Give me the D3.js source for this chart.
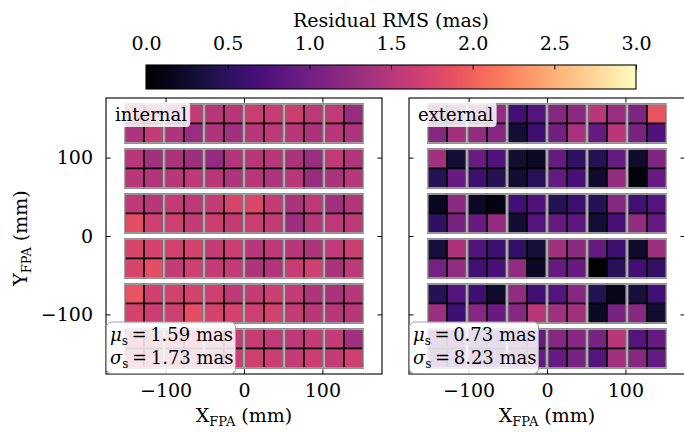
<!DOCTYPE html>
<html><head><meta charset="utf-8">
<script src="https://cdn.jsdelivr.net/npm/d3@7"></script>
<style>
body{margin:0;background:#fff;}
svg text{font-family:"DejaVu Serif",serif;fill:#000;}
</style></head>
<body><svg id="c" width="684" height="432"></svg>
<script>
// ---- data ----
const panelNames = ["internal", "external"];
const statMu = ["1.59", "0.73"];
const statSigma = ["1.73", "8.23"];
const axisTicks = [-100, 0, 100];
const cbarTicks = [0.0, 0.5, 1.0, 1.5, 2.0, 2.5, 3.0];
// focal plane layout (mm)
const chipX = [-127.5, -76.5, -25.5, 25.5, 76.5, 127.5];
const chipY = [143.5, 86.1, 28.7, -28.7, -86.1, -143.5];
// residual RMS per cell (mas), 12 cell rows (top->bottom) x 12 cell cols (left->right)
const internalRMS = [
 [1.60,1.60, 1.55,1.60, 1.50,1.50, 1.65,1.62, 1.65,1.55, 1.57,1.28],
 [1.45,1.60, 1.45,1.30, 1.45,1.35, 1.50,1.55, 1.50,1.42, 1.52,1.45],
 [1.52,1.35, 1.42,1.33, 1.25,1.48, 1.50,1.50, 1.42,1.30, 1.57,1.47],
 [1.50,1.47, 1.52,1.55, 1.50,1.45, 1.52,1.45, 1.50,1.28, 1.42,1.50],
 [1.55,1.50, 1.60,1.55, 1.60,1.75, 1.78,1.60, 1.42,1.55, 1.35,1.47],
 [1.85,1.67, 1.67,1.60, 1.65,1.60, 1.65,1.60, 1.33,1.50, 1.55,1.55],
 [1.75,1.72, 1.70,1.72, 1.60,1.65, 1.50,1.55, 1.50,1.45, 1.57,1.65],
 [1.75,1.85, 1.60,1.67, 1.60,1.60, 1.45,1.47, 1.62,1.67, 1.42,1.55],
 [1.90,1.67, 1.70,1.70, 1.67,1.55, 1.60,1.65, 1.60,1.45, 1.42,1.50],
 [1.72,1.65, 1.67,1.85, 1.72,1.72, 1.67,1.70, 1.60,1.50, 1.52,1.50],
 [1.70,1.70, 1.70,1.70, 1.70,1.60, 1.62,1.57, 1.55,1.60, 1.60,1.35],
 [1.70,1.70, 1.70,1.70, 1.70,1.67, 1.67,1.65, 1.60,1.65, 1.60,1.67]
];
const externalRMS = [
 [1.20,1.20, 1.20,1.25, 0.65,0.78, 1.15,1.20, 1.52,1.30, 1.10,1.90],
 [1.15,1.35, 1.25,1.15, 0.30,0.62, 1.00,1.40, 0.90,1.50, 1.05,0.75],
 [1.35,0.30, 0.93,0.75, 0.28,0.22, 0.90,0.52, 0.45,0.90, 0.25,1.10],
 [0.45,0.92, 0.62,0.45, 0.28,0.48, 0.90,0.70, 0.25,1.25, 0.08,0.92],
 [0.18,1.20, 0.22,0.10, 0.65,0.75, 0.45,0.62, 0.45,1.15, 0.65,0.78],
 [0.52,1.05, 0.92,1.25, 0.28,0.78, 0.90,0.85, 0.30,0.70, 1.25,0.90],
 [0.33,1.42, 0.77,0.62, 0.55,0.33, 1.35,1.20, 0.90,0.62, 0.25,1.32],
 [1.02,1.25, 0.65,0.70, 1.25,0.20, 0.90,0.92, 0.00,0.48, 0.65,0.55],
 [0.45,0.78, 0.62,0.25, 1.25,0.65, 0.78,1.15, 0.45,0.15, 0.33,0.65],
 [1.32,0.62, 1.15,0.92, 1.15,1.50, 1.35,1.35, 0.20,1.05, 1.15,0.28],
 [0.80,0.80, 0.80,0.80, 0.90,0.90, 1.15,1.15, 1.05,1.50, 0.78,0.92],
 [0.80,0.80, 0.80,0.80, 0.90,0.90, 0.92,1.05, 0.78,1.35, 1.15,0.90]
];
const panelData = [internalRMS, externalRMS];

// ---- layout ----
const svg = d3.select("#c");
const chipW = 49, chipH = 49.5;
const color = d3.scaleSequential(d3.interpolateMagma).domain([0, 3]);
const panelLeft = [106, 409], panelTop = 98, panelSize = 276;
const FS = 19, FS_STAT = 18, FS_SUB = 13;
const fmtTick = d => d3.format("d")(d).replace("-", "\u2212");

panelData.forEach((data, p) => {
  const x = d3.scaleLinear().domain([-176, 176]).range([panelLeft[p], panelLeft[p] + panelSize]);
  const y = d3.scaleLinear().domain([-176, 176]).range([panelTop + panelSize, panelTop]);
  const g = svg.append("g");
  const cells = [];
  chipY.forEach((cy, r) => chipX.forEach((cx, c) => {
    for (let i = 0; i < 2; i++) for (let j = 0; j < 2; j++) {
      cells.push({x0: cx - chipW/2 + j*chipW/2, y1: cy + chipH/2 - i*chipH/2,
                  v: data[r*2 + i][c*2 + j]});
    }
  }));
  g.selectAll("rect.cell").data(cells).join("rect")
    .attr("x", d => x(d.x0)).attr("y", d => y(d.y1))
    .attr("width", d => x(d.x0 + chipW/2) - x(d.x0))
    .attr("height", d => y(d.y1 - chipH/2) - y(d.y1))
    .attr("fill", d => color(d.v)).attr("stroke", "#000").attr("stroke-width", 1.5);
  const chips = [];
  chipY.forEach(cy => chipX.forEach(cx => chips.push({cx, cy})));
  g.selectAll("rect.chip").data(chips).join("rect")
    .attr("x", d => x(d.cx - chipW/2)).attr("y", d => y(d.cy + chipH/2))
    .attr("width", x(chipW) - x(0)).attr("height", y(0) - y(chipH))
    .attr("fill", "none").attr("stroke", "#c4c4c4").attr("stroke-width", 1.3);

  const tl = 4.5;
  const gb = g.append("g").attr("transform", `translate(0,${panelTop + panelSize})`)
    .call(d3.axisBottom(x).tickValues(axisTicks).tickSizeInner(-tl).tickSizeOuter(0).tickPadding(10).tickFormat(fmtTick));
  const gt = g.append("g").attr("transform", `translate(0,${panelTop})`)
    .call(d3.axisTop(x).tickValues(axisTicks).tickSizeInner(-tl).tickSizeOuter(0).tickFormat(""));
  const gl = g.append("g").attr("transform", `translate(${panelLeft[p]},0)`)
    .call(d3.axisLeft(y).tickValues(axisTicks).tickSizeInner(-tl).tickSizeOuter(0).tickPadding(13)
      .tickFormat(p === 0 ? fmtTick : ""));
  const gr = g.append("g").attr("transform", `translate(${panelLeft[p] + panelSize},0)`)
    .call(d3.axisRight(y).tickValues(axisTicks).tickSizeInner(-tl).tickSizeOuter(0).tickFormat(""));
  [gb, gt, gl, gr].forEach(a => {
    a.select(".domain").remove();
    a.selectAll("line").attr("stroke", "#000").attr("stroke-width", 1);
    a.selectAll("text").attr("font-family", "DejaVu Serif").attr("font-size", FS).attr("fill", "#000");
  });
  g.append("rect").attr("x", panelLeft[p]).attr("y", panelTop).attr("width", panelSize).attr("height", panelSize)
    .attr("fill", "none").attr("stroke", "#000").attr("stroke-width", 1.1);

  // name box
  const nb = g.append("g");
  const nt = nb.append("text").attr("x", panelLeft[p] + 9).attr("y", panelTop + 23)
    .attr("font-size", FS_STAT).text(panelNames[p]);
  const bb = nt.node().getBBox();
  nb.insert("rect", "text").attr("x", bb.x - 4).attr("y", panelTop + 4).attr("width", bb.width + 7)
    .attr("height", 25).attr("rx", 4).attr("fill", "#fff").attr("fill-opacity", 0.85);

  // stats box
  const sb = g.append("g");
  sb.append("rect").attr("x", panelLeft[p] + 0.5).attr("y", 322).attr("width", 129).attr("height", 51.5)
    .attr("rx", 5).attr("fill", "#fff").attr("fill-opacity", 0.85).attr("stroke", "#a0a0a0").attr("stroke-width", 1);
  [["\u03bc", statMu[p], 341], ["\u03c3", statSigma[p], 364]].forEach(([sym, val, yy]) => {
    const t = sb.append("text").attr("x", panelLeft[p] + 4).attr("y", yy).attr("font-size", FS_STAT);
    t.append("tspan").attr("font-style", "italic").text(sym);
    t.append("tspan").attr("font-size", 12).attr("dy", 4).text("s");
    t.append("tspan").attr("dy", -4).text("\u2009=\u2009" + val + " mas");
  });

  // x label
  const xl = g.append("text").attr("x", panelLeft[p] + panelSize/2).attr("y", 422)
    .attr("text-anchor", "middle").attr("font-size", FS);
  xl.append("tspan").text("X");
  xl.append("tspan").attr("font-size", FS_SUB).attr("dy", 4).text("FPA");
  xl.append("tspan").attr("dy", -4).text(" (mm)");
});

// y label
const yl = svg.append("text").attr("transform", "translate(27,238) rotate(-90)")
  .attr("text-anchor", "middle").attr("font-size", FS);
yl.append("tspan").text("Y");
yl.append("tspan").attr("font-size", FS_SUB).attr("dy", 4).text("FPA");
yl.append("tspan").attr("dy", -4).text(" (mm)");

// colorbar
const cbX0 = 146, cbX1 = 636, cbY = 65, cbH = 24;
const cx = d3.scaleLinear().domain([0, 3]).range([cbX0, cbX1]);
const grad = svg.append("defs").append("linearGradient").attr("id", "mg");
d3.range(0, 1.0001, 0.02).forEach(t => grad.append("stop").attr("offset", t).attr("stop-color", d3.interpolateMagma(t)));
svg.append("rect").attr("x", cbX0).attr("y", cbY).attr("width", cbX1 - cbX0).attr("height", cbH)
  .attr("fill", "url(#mg)").attr("stroke", "#000").attr("stroke-width", 1.1);
const ca = svg.append("g").attr("transform", `translate(0,${cbY})`)
  .call(d3.axisTop(cx).tickValues(cbarTicks).tickSizeInner(-4.5).tickSizeOuter(0).tickPadding(15).tickFormat(d3.format(".1f")));
ca.select(".domain").remove();
ca.selectAll("line").attr("stroke", "#000");
ca.selectAll("text").attr("font-family", "DejaVu Serif").attr("font-size", FS).attr("fill", "#000");
svg.append("text").attr("x", (cbX0 + cbX1)/2).attr("y", 27).attr("text-anchor", "middle")
  .attr("font-size", FS).text("Residual RMS (mas)");
</script></body></html>
